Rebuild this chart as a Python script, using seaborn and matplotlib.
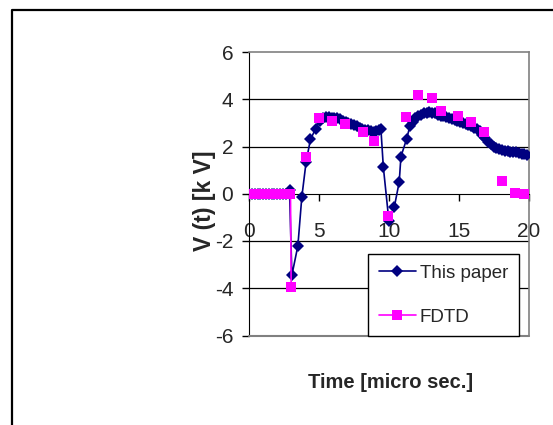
import numpy as np
import pandas as pd
import matplotlib
matplotlib.use('Agg')
import matplotlib.pyplot as plt
import seaborn as sns
from matplotlib.lines import Line2D

# "This paper" curve
t_paper = [0.0, 0.2, 0.4, 0.6, 0.8, 1.0, 1.2, 1.4, 1.6, 1.8, 2.0, 2.2, 2.4, 2.6,
           2.88, 3.05, 3.48, 3.76, 4.07, 4.38, 4.76, 5.07, 5.3, 5.5, 5.7, 5.9,
           6.1, 6.3, 6.5, 6.7, 6.9, 7.1, 7.3, 7.5, 7.7, 7.9, 8.1, 8.3, 8.5, 8.7,
           8.9, 9.1, 9.3, 9.43, 9.6, 10.0, 10.38, 10.74, 10.86, 11.27, 11.5, 11.7,
           11.9, 12.1, 12.3, 12.5, 12.7, 12.9, 13.1, 13.3, 13.5, 13.7, 13.9, 14.1,
           14.3, 14.5, 14.7, 14.9, 15.1, 15.3, 15.5, 15.7, 15.9, 16.1, 16.3, 16.5,
           16.7, 16.9, 17.1, 17.3, 17.5, 17.7, 17.9, 18.1, 18.3, 18.5, 18.7, 18.9,
           19.1, 19.3, 19.5, 19.7, 19.9]
v_paper = [0, 0, 0, 0, 0, 0, 0, 0, 0, 0, 0, 0, 0, 0,
           0.15, -3.45, -2.2, -0.15, 1.35, 2.3, 2.76, 3.1, 3.2, 3.25, 3.25, 3.2,
           3.2, 3.2, 3.15, 3.1, 3.05, 3.0, 2.95, 2.9, 2.85, 2.8, 2.75, 2.7, 2.7, 2.65,
           2.6, 2.65, 2.7, 2.72, 1.14, -1.15, -0.58, 0.5, 1.57, 2.32, 2.85, 3.05,
           3.2, 3.3, 3.35, 3.4, 3.42, 3.45, 3.42, 3.4, 3.35, 3.3, 3.27, 3.25,
           3.2, 3.17, 3.12, 3.08, 3.03, 3.0, 2.95, 2.9, 2.85, 2.8, 2.75, 2.65,
           2.5, 2.35, 2.2, 2.1, 2.0, 1.95, 1.9, 1.87, 1.83, 1.8, 1.78, 1.77,
           1.75, 1.72, 1.7, 1.68, 1.62]

# FDTD points; only the first run (up to the drop at ~3 us) is joined by a line
t_fdtd_run = [0.0, 0.2, 0.4, 0.6, 0.8, 1.0, 1.2, 1.4, 1.6, 1.8, 2.0, 2.2, 2.4, 2.6, 2.8, 2.95, 3.0]
v_fdtd_run = [0, 0, 0, 0, 0, 0, 0, 0, 0, 0, 0, 0, 0, 0, 0, 0, -3.95]
t_fdtd_pts = [4.07, 5.0, 5.9, 6.86, 8.12, 8.95, 9.95, 11.19, 12.12, 13.1, 13.74,
              14.93, 15.88, 16.83, 18.07, 19.05, 19.7]
v_fdtd_pts = [1.55, 3.2, 3.1, 2.95, 2.6, 2.25, -0.93, 3.25, 4.2, 4.04, 3.5,
              3.27, 3.03, 2.6, 0.55, 0.03, 0.0]

x_ticks = [0, 5, 10, 15, 20]
y_ticks = [-6, -4, -2, 0, 2, 4, 6]

navy = '#000080'
pink = '#ff00ff'

paper = pd.DataFrame({'t': t_paper, 'v': v_paper})
fdtd = pd.DataFrame({
    't': t_fdtd_run + t_fdtd_pts,
    'v': v_fdtd_run + v_fdtd_pts,
    'seg': [0] * len(t_fdtd_run) + list(range(1, len(t_fdtd_pts) + 1)),
})

sns.set_style('white')
plt.rcParams['font.family'] = ['Liberation Sans', 'DejaVu Sans']
plt.rcParams['axes.unicode_minus'] = False

fig = plt.figure(figsize=(5.53, 4.25), dpi=100)
ax = fig.add_axes([249.3 / 553, 1 - 335.5 / 425, 279.2 / 553, 283.5 / 425])

# grid lines (black, Excel style)
for y in y_ticks:
    if y not in (-6, 0, 6):
        ax.axhline(y, color='black', lw=0.9, zorder=0.5)

sns.lineplot(data=paper, x='t', y='v', ax=ax, color=navy, lw=1.2,
             marker='D', markersize=6.3, markeredgewidth=0,
             estimator=None, sort=False, legend=False, zorder=3)
sns.lineplot(data=fdtd, x='t', y='v', units='seg', ax=ax, color=pink, lw=1.2,
             marker='s', markersize=6.5, markeredgewidth=0,
             estimator=None, sort=False, legend=False, zorder=4)

ax.set_xlim(0, 20)
ax.set_ylim(-6, 6)
ax.set_xticks(x_ticks)
ax.set_yticks(y_ticks)

ax.spines['bottom'].set_position(('data', 0))
ax.spines['bottom'].set_color('black')
ax.spines['left'].set_color('black')
for s in ['top', 'right']:
    ax.spines[s].set_color('#808080')
    ax.spines[s].set_linewidth(1.2)
ax.axhline(-6, color='#808080', lw=1.5, clip_on=False, zorder=5)

ax.tick_params(axis='x', bottom=True, direction='out', length=5, width=1,
               color='black', pad=15.5, labelsize=15)
ax.tick_params(axis='y', left=True, direction='out', length=5, width=1,
               color='black', pad=6.5, labelsize=15)

ax.set_xlabel('')
ax.set_ylabel('V (t) [k V]', fontsize=16.5, fontweight='bold', va='center')
ax.yaxis.set_label_coords((204 - 249.3) / 279.2, (335.5 - 201) / 283.5)
fig.text(391 / 553, 1 - 382 / 425, 'Time [micro sec.]', fontsize=14.5,
         fontweight='bold', ha='center', va='center')

handles = [
    Line2D([], [], color=navy, lw=1.2, marker='D', markersize=6.5, markeredgewidth=0),
    Line2D([], [], color=pink, lw=1.2, marker='s', markersize=7, markeredgewidth=0),
]
leg = ax.legend(handles, ['This paper', 'FDTD'], loc='lower left',
                bbox_to_anchor=(368.3 / 553, 1 - 336 / 425), bbox_transform=fig.transFigure,
                borderaxespad=0, fontsize=13.5, frameon=True, fancybox=False,
                handlelength=2.0, handletextpad=0.2,
                borderpad=0.55, labelspacing=1.42)
leg.get_frame().set_edgecolor('black')
leg.get_frame().set_linewidth(1.0)
leg.get_frame().set_alpha(1)
leg.set_zorder(6)

# outer frame of the figure (left and top edges only)
x0, y0 = 12 / 553, 1 - 9.5 / 425
fig.add_artist(Line2D([x0, x0, 1.0], [0.0, y0, y0], transform=fig.transFigure,
                      color='black', lw=1.6))

fig.savefig('out.png', dpi=100)
